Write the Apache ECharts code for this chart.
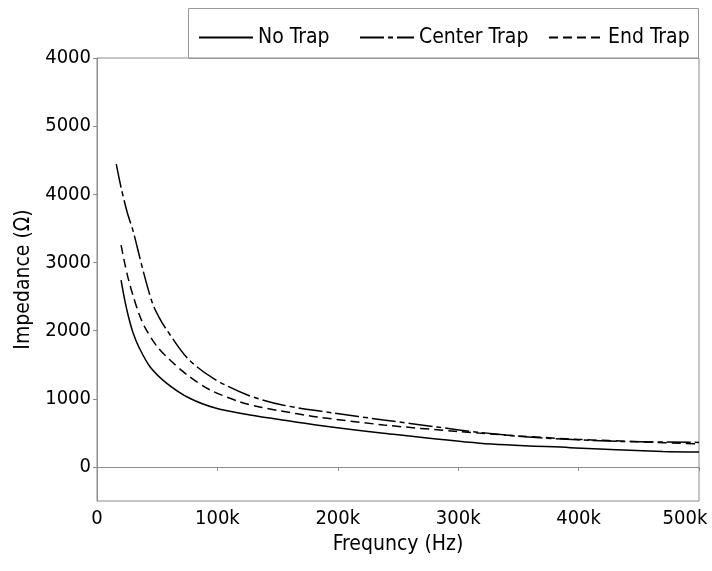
<!DOCTYPE html>
<html>
<head>
<meta charset="utf-8">
<script src="https://cdn.jsdelivr.net/npm/echarts@6/dist/echarts.min.js"></script>
<style>html,body{margin:0;padding:0;background:#fff}#c{width:712px;height:571px}</style>
</head>
<body>
<div id="c"></div>
<script>
// Frequencies in kHz, impedance in ohms
var freqNoTrap = [20, 23, 26, 30, 35, 44, 58, 77, 99, 127, 150, 182, 238, 318, 393, 470, 500];
var noTrap     = [2740, 2450, 2215, 1965, 1750, 1471, 1227, 1007, 860, 762, 700, 616, 494, 347, 283, 225, 218];

var freqCenter = [16, 20, 25, 30, 38, 46, 52, 58, 75, 96, 125, 154, 196, 238, 282, 316, 365, 434, 500];
var centerTrap = [4443, 4100, 3740, 3460, 2900, 2404, 2180, 2009, 1598, 1305, 1056, 909, 792, 689, 587, 510, 430, 375, 360];

var freqEnd = [20, 23, 26, 30, 35, 40, 50, 60, 75, 94, 119, 135, 150, 183, 238, 300, 350, 400, 450, 500];
var endTrap = [3255, 2990, 2760, 2510, 2240, 2040, 1765, 1580, 1349, 1129, 953, 880, 830, 733, 616, 520, 455, 404, 370, 337];

var seriesNames = ['No Trap', 'Center Trap', 'End Trap'];
var yTickValues = [0, 1000, 2000, 3000, 4000, 5000, 6000];
var yTickLabels = ['0', '1000', '2000', '3000', '4000', '5000', '4000'];
var xTickValues = [0, 100000, 200000, 300000, 400000, 500000];
var xTickLabels = ['0', '100k', '200k', '300k', '400k', '500k'];

function pairs(f, v) { return f.map(function (x, i) { return [x * 1000, v[i]]; }); }

var FONT = '"DejaVu Sans Condensed", "DejaVu Sans", sans-serif';
var GRAY = '#8c8c8c';

var chart = echarts.init(document.getElementById('c'), null, {renderer: 'canvas'});
var lineBase = {type: 'line', showSymbol: false, symbol: 'none', smooth: 0.3, animation: false};
var legendCommon = {top: 22, itemWidth: 54, itemHeight: 14,
  itemStyle: {color: 'rgba(0,0,0,0)', borderWidth: 0, borderColor: 'rgba(0,0,0,0)'},
  textStyle: {fontFamily: FONT, fontSize: 21, color: '#000'}};

chart.setOption({
  animation: false,
  backgroundColor: '#fff',
  grid: {left: 97, right: 13, top: 58, bottom: 70, show: true, borderColor: GRAY, borderWidth: 1, outerBoundsMode: 'none', containLabel: false},
  graphic: [{type: 'rect', shape: {x: 188.5, y: 8.5, width: 510, height: 50}, style: {fill: 'none', stroke: '#999', lineWidth: 1}, z: 0}],
  legend: [
    Object.assign({data: [seriesNames[0]], left: 193}, legendCommon),
    Object.assign({data: [seriesNames[1]], left: 354}, legendCommon),
    Object.assign({data: [seriesNames[2]], left: 543}, legendCommon)
  ],
  xAxis: {
    type: 'value', min: 0, max: 500000,
    name: 'Frequncy (Hz)', nameLocation: 'middle', nameGap: 32,
    nameTextStyle: {fontFamily: FONT, fontSize: 21, color: '#000'},
    axisLine: {show: true, lineStyle: {color: GRAY}},
    axisTick: {show: true, length: 4, lineStyle: {color: GRAY}, customValues: xTickValues},
    axisLabel: {fontFamily: FONT, fontSize: 20, color: '#000', margin: 8, customValues: xTickValues,
      hideOverlap: false,
      rich: {last: {fontFamily: FONT, fontSize: 20, color: '#000', padding: [0, 28, 0, 0]}},
      formatter: function (v) {
        var i = xTickValues.indexOf(v);
        if (i < 0) return '';
        return i === xTickValues.length - 1 ? '{last|' + xTickLabels[i] + '}' : xTickLabels[i];
      }},
    splitLine: {show: false}
  },
  yAxis: {
    type: 'value', min: -500, max: 6000,
    name: 'Impedance (Ω)', nameLocation: 'middle', nameGap: 59,
    nameTextStyle: {fontFamily: FONT, fontSize: 21, color: '#000'},
    axisLine: {show: true, lineStyle: {color: GRAY}},
    axisTick: {show: true, length: 4, lineStyle: {color: GRAY}, customValues: yTickValues},
    axisLabel: {fontFamily: FONT, fontSize: 20, color: '#000', margin: 6, customValues: yTickValues,
      formatter: function (v) { var i = yTickValues.indexOf(v); return i >= 0 ? yTickLabels[i] : ''; }},
    splitLine: {show: false}
  },
  series: [
    Object.assign({}, lineBase, {name: seriesNames[0], data: pairs(freqNoTrap, noTrap), color: '#000', lineStyle: {color: '#000', width: 1.5, type: 'solid'}}),
    Object.assign({}, lineBase, {name: seriesNames[1], data: pairs(freqCenter, centerTrap), color: '#000', lineStyle: {color: '#000', width: 1.5, type: [24, 4, 5, 4]}}),
    Object.assign({}, lineBase, {name: seriesNames[2], data: pairs(freqEnd, endTrap), color: '#000', lineStyle: {color: '#000', width: 1.5, type: [9, 5]}})
  ]
});
</script>
</body>
</html>
